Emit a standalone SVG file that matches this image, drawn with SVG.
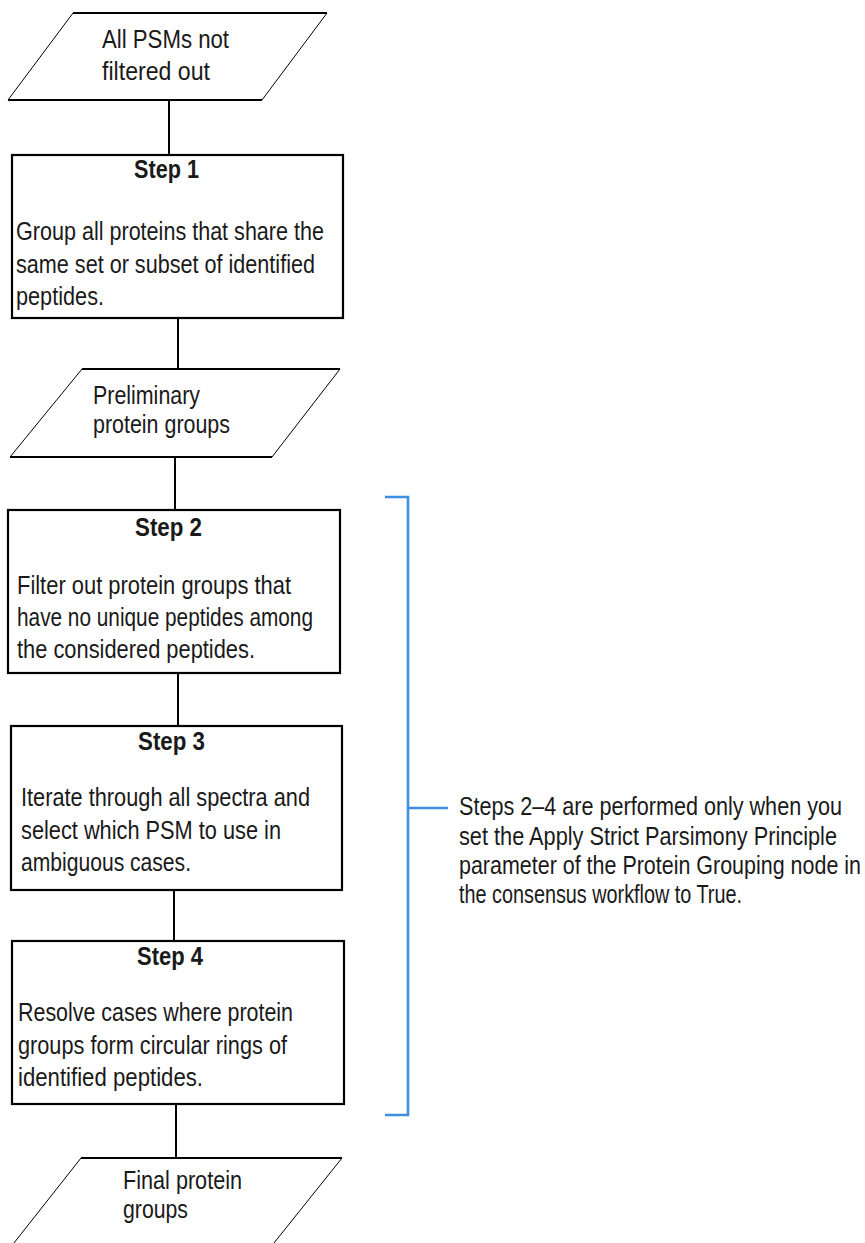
<svg xmlns="http://www.w3.org/2000/svg" width="865" height="1243" viewBox="0 0 865 1243">
<style>
  text { font-family: "Liberation Sans Narrow", "Liberation Sans", Arial, sans-serif; font-size: 26px; fill: #1a1a1a; }
  .b { font-weight: bold; }
  .n { font-size: 21.5px; }
  .box { fill: #fff; stroke: #000; stroke-width: 2.2; }
  .para { fill: #fff; stroke: #000; stroke-width: 1; }
  .edge { stroke: #000; stroke-width: 2; fill: none; }
  .conn { stroke: #000; stroke-width: 2; fill: none; }
  .bracket { stroke: #3d8fe0; stroke-width: 2.6; fill: none; }
</style>
<rect width="865" height="1243" fill="#fff"/>

<g id="connectors">
  <line class="conn" x1="169" y1="100" x2="169" y2="155"/>
  <line class="conn" x1="178" y1="318" x2="178" y2="369"/>
  <line class="conn" x1="175" y1="457" x2="175" y2="510"/>
  <line class="conn" x1="178" y1="673" x2="178" y2="726"/>
  <line class="conn" x1="174" y1="890" x2="174" y2="941"/>
  <line class="conn" x1="176" y1="1104" x2="176" y2="1158"/>
</g>

<g id="input">
  <polygon class="para" points="73,13 327,13 262,100 8,100"/>
  <line class="edge" x1="73" y1="13" x2="327" y2="13"/>
  <line class="edge" x1="8" y1="100" x2="262" y2="100"/>
  <text x="102" y="48" textLength="127" lengthAdjust="spacingAndGlyphs">All PSMs not</text>
  <text x="102" y="80" textLength="108" lengthAdjust="spacingAndGlyphs">filtered out</text>
</g>

<g id="step1">
  <rect class="box" x="12" y="155" width="331" height="163"/>
  <text class="b" x="134" y="178" textLength="65" lengthAdjust="spacingAndGlyphs">Step 1</text>
  <text x="16" y="240" textLength="308" lengthAdjust="spacingAndGlyphs">Group all proteins that share the</text>
  <text x="16" y="273" textLength="299" lengthAdjust="spacingAndGlyphs">same set or subset of identified</text>
  <text x="16" y="305" textLength="88" lengthAdjust="spacingAndGlyphs">peptides.</text>
</g>

<g id="preliminary">
  <polygon class="para" points="82,369 340,369 272,457 10,457"/>
  <line class="edge" x1="82" y1="369" x2="340" y2="369"/>
  <line class="edge" x1="10" y1="457" x2="272" y2="457"/>
  <text x="93" y="404" textLength="107" lengthAdjust="spacingAndGlyphs">Preliminary</text>
  <text x="93" y="433" textLength="137" lengthAdjust="spacingAndGlyphs">protein groups</text>
</g>

<g id="step2">
  <rect class="box" x="8" y="510" width="332" height="163"/>
  <text class="b" x="135" y="536" textLength="67" lengthAdjust="spacingAndGlyphs">Step 2</text>
  <text x="17" y="594" textLength="274" lengthAdjust="spacingAndGlyphs">Filter out protein groups that</text>
  <text x="17" y="626" textLength="296" lengthAdjust="spacingAndGlyphs">have no unique peptides among</text>
  <text x="17" y="658" textLength="238" lengthAdjust="spacingAndGlyphs">the considered peptides.</text>
</g>

<g id="step3">
  <rect class="box" x="11" y="726" width="331" height="164"/>
  <text class="b" x="138" y="750" textLength="67" lengthAdjust="spacingAndGlyphs">Step 3</text>
  <text x="21" y="806" textLength="289" lengthAdjust="spacingAndGlyphs">Iterate through all spectra and</text>
  <text x="21" y="839" textLength="260" lengthAdjust="spacingAndGlyphs">select which PSM to use in</text>
  <text x="21" y="871" textLength="170" lengthAdjust="spacingAndGlyphs">ambiguous cases.</text>
</g>

<g id="step4">
  <rect class="box" x="12" y="941" width="332" height="163"/>
  <text class="b" x="137" y="965" textLength="66" lengthAdjust="spacingAndGlyphs">Step 4</text>
  <text x="18" y="1021" textLength="275" lengthAdjust="spacingAndGlyphs">Resolve cases where protein</text>
  <text x="18" y="1054" textLength="269" lengthAdjust="spacingAndGlyphs">groups form circular rings of</text>
  <text x="18" y="1086" textLength="185" lengthAdjust="spacingAndGlyphs">identified peptides.</text>
</g>

<g id="final">
  <polygon class="para" points="81,1158 342,1158 270,1248 10,1248"/>
  <line class="edge" x1="81" y1="1158" x2="342" y2="1158"/>
  <text x="123" y="1189" textLength="119" lengthAdjust="spacingAndGlyphs">Final protein</text>
  <text x="123" y="1218" textLength="65" lengthAdjust="spacingAndGlyphs">groups</text>
</g>

<g id="note">
  <path class="bracket" d="M385,497 H408 V1115 H385 M408,808 H448"/>
  <text class="n" x="459" y="815" transform="translate(0,-163) scale(1,1.2)" textLength="383" lengthAdjust="spacingAndGlyphs">Steps 2–4 are performed only when you</text>
  <text class="n" x="459" y="845" transform="translate(0,-169) scale(1,1.2)" textLength="378" lengthAdjust="spacingAndGlyphs">set the Apply Strict Parsimony Principle</text>
  <text class="n" x="459" y="874" transform="translate(0,-174.8) scale(1,1.2)" textLength="402" lengthAdjust="spacingAndGlyphs">parameter of the Protein Grouping node in</text>
  <text class="n" x="459" y="903" transform="translate(0,-180.6) scale(1,1.2)" textLength="283" lengthAdjust="spacingAndGlyphs">the consensus workflow to True.</text>
</g>
</svg>
